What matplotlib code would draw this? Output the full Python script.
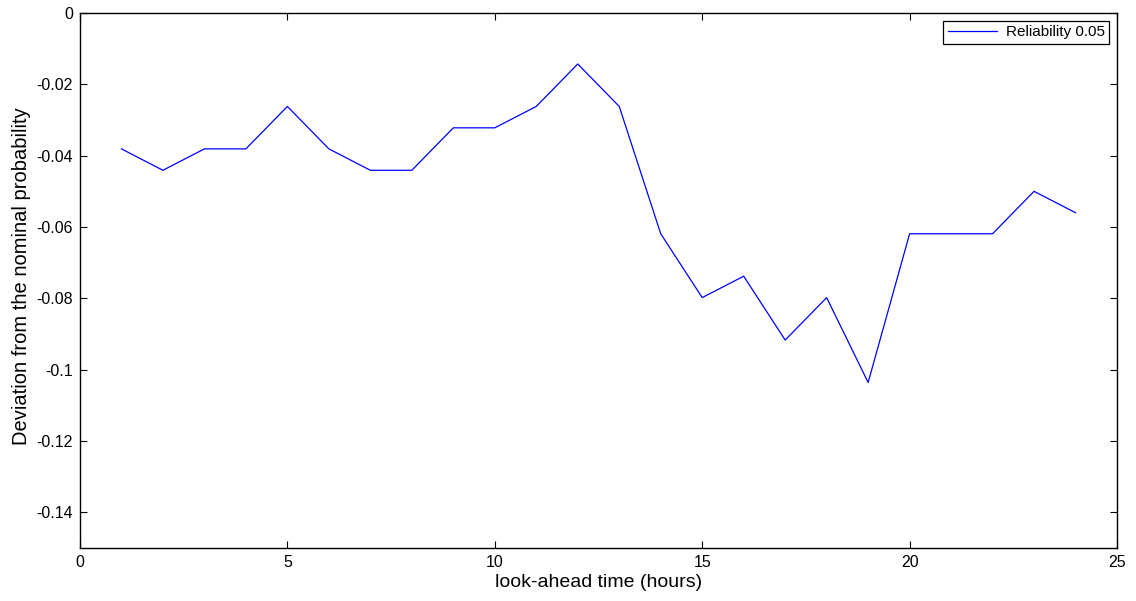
import matplotlib
matplotlib.use("Agg")
import matplotlib.pyplot as plt

plt.rcParams['font.family'] = ['Liberation Sans', 'DejaVu Sans']

# look-ahead hours and deviation of the 0.05 reliability level
hours = list(range(1, 25))
deviation = [-0.0381, -0.0441, -0.0381, -0.0381, -0.0262, -0.0381, -0.0441, -0.0441,
             -0.0322, -0.0322, -0.0262, -0.0143, -0.0262, -0.0619, -0.0798, -0.0738,
             -0.0917, -0.0798, -0.1036, -0.0619, -0.0619, -0.0619, -0.0500, -0.0560]
series_name = "Reliability 0.05"
xticks = [0, 5, 10, 15, 20, 25]
yticks = [0, -0.02, -0.04, -0.06, -0.08, -0.1, -0.12, -0.14]
ytick_labels = ["0", "-0.02", "-0.04", "-0.06", "-0.08", "-0.1", "-0.12", "-0.14"]

fig = plt.figure(figsize=(11.36, 6.01), dpi=100)
ax = fig.add_axes([0.0704, 0.0882, 0.9129, 0.8902])

ax.plot(hours, deviation, color=(0, 0, 1), linewidth=0.9, label=series_name)

ax.set_xlim(0, 25)
ax.set_ylim(-0.15, 0)
ax.set_xticks(xticks)
ax.set_xticklabels([str(t) for t in xticks])
ax.set_yticks(yticks)
ax.set_yticklabels(ytick_labels)
ax.tick_params(direction='in', top=True, right=True, length=5, width=0.8,
               labelsize=11.5, pad=5)
for s in ax.spines.values():
    s.set_linewidth(1.0)

ax.set_xlabel("look-ahead time (hours)", fontsize=14, labelpad=3)
ax.set_ylabel("Deviation from the nominal probability", fontsize=14.5)
ax.yaxis.set_label_coords(-0.047, 0.509)

leg = ax.legend(loc='upper right', fontsize=11, fancybox=False, framealpha=1,
                edgecolor='black', borderaxespad=0.5, handlelength=3.2,
                borderpad=0.3, handletextpad=0.6)
leg.get_frame().set_linewidth(0.9)

fig.savefig("out.png", dpi=100)
